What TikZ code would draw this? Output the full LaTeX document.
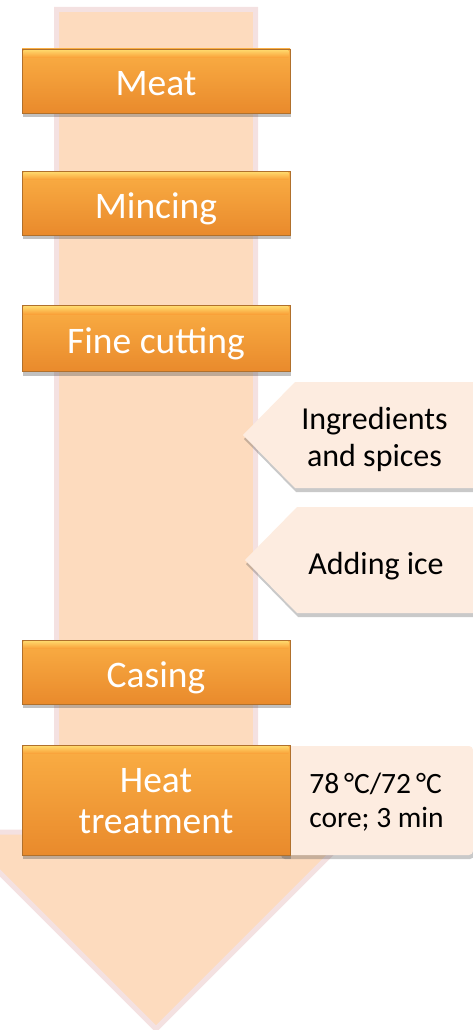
\documentclass[tikz,border=0pt]{standalone}
\usepackage{fontspec}
\setmainfont{Carlito}
\usetikzlibrary{shadows}
\definecolor{arrowfill}{HTML}{FDDBBE}
\definecolor{arrowedge}{HTML}{F4E1E1}
\definecolor{notefill}{HTML}{FDECE0}
\definecolor{boxtop}{HTML}{FAAE44}
\definecolor{boxmid}{HTML}{F9A038}
\definecolor{boxbot}{HTML}{E98A2C}
\definecolor{boxedge}{HTML}{B0702C}
\definecolor{hilite}{HTML}{FFD66A}
\begin{document}
\begin{tikzpicture}[x=1pt,y=-1pt,
  stepbox/.style={rectangle, minimum width=268pt, minimum height=64pt,
    top color=boxtop, middle color=boxmid, bottom color=boxbot,
    draw=boxedge, line width=0.8pt, text=white, align=center,
    font=\fontsize{37.5}{41}\selectfont, text height=34pt, text depth=4pt,
    drop shadow={shadow xshift=1pt, shadow yshift=-4pt, opacity=0.35, fill=black!70}},
  notebox/.style={fill=notefill,
    drop shadow={shadow xshift=1pt, shadow yshift=-4pt, opacity=0.3, fill=black!70}},
  notetext/.style={font=\fontsize{32}{37}\selectfont, text=black, align=center, inner sep=0pt},
  hl/.style={top color=hilite, bottom color=boxmid}]
\useasboundingbox (0,0) rectangle (473,1030);
% big arrow
\path[fill=arrowfill, draw=arrowedge, line width=5pt, line join=miter]
  (56.5,9.5) -- (255.5,9.5) -- (255.5,832) -- (353,832) -- (156,1029)
  -- (-41,832) -- (56.5,832) -- cycle;
% side notes
\path[notebox] (295,382) -- (478,382) -- (478,488) -- (295,488) -- (243,435) -- cycle;
\path[notebox] (297,507) -- (478,507) -- (478,613) -- (297,613) -- (245,560) -- cycle;
\path[notebox, rounded corners=4pt] (280,746) rectangle (473,855);
\node[notetext, anchor=base] (ing) at (374.5,466) {Ingredients\\and spices};
\node[notetext, anchor=base] (ice) at (376,574) {Adding ice};
\node[notetext, anchor=base, align=left, font=\fontsize{29.5}{34}\selectfont] (heatnote) at (376.5,827) {78\,°C/72\,°C\\core; 3 min};
% process boxes
\node[stepbox] (meat) at (156,81) {Meat};
\node[stepbox] (mince) at (156,203) {Mincing};
\node[stepbox, minimum height=66pt] (fine) at (156,338.5) {Fine cutting};
\node[stepbox] (casing) at (156,672) {Casing};
\node[stepbox, minimum height=110pt, text height=70pt, text depth=4pt] (heat) at (156,800) {Heat\\treatment};
\foreach \b in {meat,mince,fine,casing,heat}{
  \fill[hl] ([xshift=2pt,yshift=-1.5pt]\b.north west) rectangle ([xshift=-2pt,yshift=-9pt]\b.north east);
}
\end{tikzpicture}
\end{document}
